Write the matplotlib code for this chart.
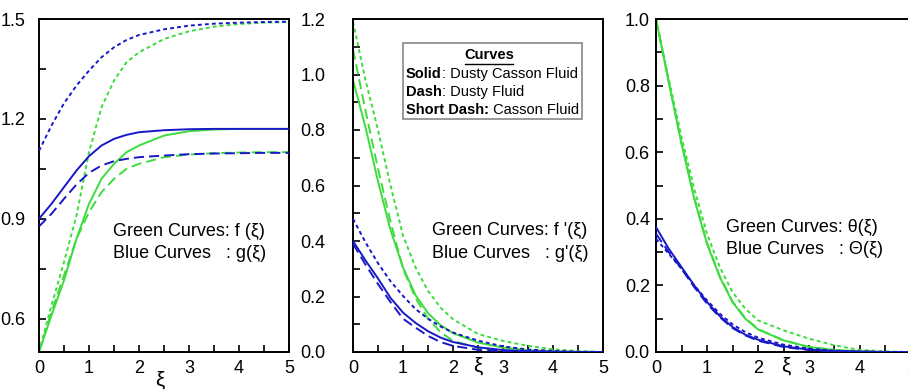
import matplotlib
matplotlib.use('Agg')
import matplotlib.pyplot as plt
from matplotlib.lines import Line2D
from matplotlib.patches import Rectangle
from matplotlib.text import Annotation

plt.rcParams['font.family'] = ['Liberation Sans', 'DejaVu Sans']

xi = [0, 0.25, 0.5, 0.75, 1.0, 1.25, 1.5, 1.75, 2.0, 2.5, 3.0, 3.5, 4.0, 4.5, 5.0]

# panel 1: f and g
f_solid = [0.50, 0.61, 0.715, 0.84, 0.945, 1.02, 1.065, 1.10, 1.12, 1.15, 1.163, 1.168, 1.17, 1.17, 1.17]
f_dash = [0.50, 0.62, 0.73, 0.84, 0.92, 0.98, 1.02, 1.05, 1.065, 1.085, 1.093, 1.097, 1.099, 1.10, 1.10]
f_short = [0.50, 0.64, 0.77, 0.91, 1.10, 1.235, 1.315, 1.37, 1.40, 1.44, 1.463, 1.477, 1.485, 1.489, 1.491]
g_solid = [0.90, 0.945, 0.995, 1.045, 1.088, 1.12, 1.14, 1.152, 1.16, 1.166, 1.169, 1.17, 1.17, 1.17, 1.17]
g_dash = [0.877, 0.915, 0.96, 1.003, 1.038, 1.06, 1.073, 1.08, 1.085, 1.09, 1.094, 1.096, 1.097, 1.098, 1.098]
g_short = [1.104, 1.18, 1.247, 1.30, 1.345, 1.385, 1.415, 1.437, 1.452, 1.469, 1.48, 1.486, 1.489, 1.491, 1.492]

# panel 2: f' and g'
fp_solid = [0.98, 0.81, 0.615, 0.44, 0.305, 0.205, 0.14, 0.097, 0.068, 0.034, 0.016, 0.007, 0.003, 0.001, 0.0]
fp_dash = [1.09, 0.87, 0.66, 0.47, 0.30, 0.195, 0.12, 0.072, 0.04, 0.015, 0.005, 0.002, 0.0, 0.0, 0.0]
fp_short = [1.19, 0.98, 0.80, 0.60, 0.42, 0.305, 0.22, 0.16, 0.118, 0.065, 0.04, 0.022, 0.01, 0.003, 0.0]
gp_solid = [0.40, 0.33, 0.265, 0.195, 0.142, 0.105, 0.075, 0.052, 0.036, 0.017, 0.007, 0.003, 0.001, 0.0, 0.0]
gp_dash = [0.39, 0.315, 0.245, 0.18, 0.12, 0.088, 0.058, 0.036, 0.022, 0.008, 0.003, 0.001, 0.0, 0.0, 0.0]
gp_short = [0.48, 0.395, 0.32, 0.255, 0.202, 0.155, 0.12, 0.092, 0.07, 0.041, 0.02, 0.009, 0.004, 0.001, 0.0]

# panel 3: theta and Theta
th_solid = [1.0, 0.81, 0.625, 0.46, 0.325, 0.225, 0.15, 0.10, 0.068, 0.035, 0.015, 0.006, 0.002, 0.0, 0.0]
th_dash = [1.0, 0.812, 0.628, 0.463, 0.328, 0.228, 0.152, 0.102, 0.069, 0.035, 0.015, 0.006, 0.002, 0.0, 0.0]
th_short = [1.0, 0.82, 0.645, 0.49, 0.355, 0.255, 0.18, 0.13, 0.095, 0.065, 0.04, 0.02, 0.006, 0.002, 0.0]
Th_solid = [0.375, 0.31, 0.255, 0.20, 0.15, 0.108, 0.075, 0.052, 0.037, 0.017, 0.007, 0.003, 0.001, 0.0, 0.0]
Th_dash = [0.355, 0.30, 0.25, 0.195, 0.145, 0.105, 0.072, 0.05, 0.034, 0.015, 0.006, 0.002, 0.001, 0.0, 0.0]
Th_short = [0.34, 0.295, 0.25, 0.20, 0.155, 0.115, 0.083, 0.06, 0.043, 0.022, 0.01, 0.004, 0.001, 0.0, 0.0]

# tick positions
x_major = [0, 1, 2, 3, 4, 5]
x_minor = [0.5, 1.5, 2.5, 3.5, 4.5]
y1_major = [0.6, 0.9, 1.2, 1.5]
y1_minor = [0.75, 1.05, 1.35]
y2_major = [0.0, 0.2, 0.4, 0.6, 0.8, 1.0, 1.2]
y2_minor = [0.1, 0.3, 0.5, 0.7, 0.9, 1.1]
y3_major = [0.0, 0.2, 0.4, 0.6, 0.8, 1.0]
y3_minor = [0.1, 0.3, 0.5, 0.7, 0.9]

green = '#3ddc3d'
blue = '#1818c8'
LONG = (5.2, 2.6)
SHORT = (2.0, 1.6)

W, H = 908, 392
fig = plt.figure(figsize=(W / 100, H / 100), dpi=100)

def px(x, y):
    return x / W, 1 - y / H

def make_ax(left_px, width_px, ylim, major, minor, pad):
    ax = fig.add_axes([left_px / W, 1 - 352 / H, width_px / W, 333 / H])
    ax.set_xlim(0, 5)
    ax.set_ylim(*ylim)
    ax.set_xticks(x_major)
    ax.set_xticks(x_minor, minor=True)
    ax.set_yticks(major)
    ax.set_yticks(minor, minor=True)
    ax.set_yticklabels(['%.1f' % t for t in major])
    ax.tick_params(which='both', direction='in', length=5, width=1.2, labelsize=13)
    ax.tick_params(axis='y', pad=pad)
    ax.tick_params(axis='x', pad=6)
    for s in ax.spines.values():
        s.set_linewidth(1.4)
    return ax

def draw(ax, s, d, sh, color, z):
    ax.plot(xi, s, color=color, lw=1.4, zorder=z)
    ax.plot(xi, d, color=color, lw=1.4, dashes=LONG, zorder=z)
    ax.plot(xi, sh, color=color, lw=1.4, dashes=SHORT, zorder=z)

ax1 = make_ax(39, 250, (0.5, 1.5), y1_major, y1_minor, 10)
draw(ax1, f_solid, f_dash, f_short, green, 2)
draw(ax1, g_solid, g_dash, g_short, blue, 3)

ax2 = make_ax(353, 250, (0.0, 1.2), y2_major, y2_minor, 20)
draw(ax2, fp_solid, fp_dash, fp_short, green, 2)
draw(ax2, gp_solid, gp_dash, gp_short, blue, 3)

ax3 = make_ax(656, 255, (0.0, 1.0), y3_major, y3_minor, 4.5)
draw(ax3, th_solid, th_dash, th_short, green, 2)
draw(ax3, Th_solid, Th_dash, Th_short, blue, 3)

# xi axis labels
fig.text(*px(160, 380), 'ξ', fontsize=15, ha='center', va='center')
fig.text(*px(478, 366), 'ξ', fontsize=15, ha='center', va='center')
fig.text(*px(786, 366), 'ξ', fontsize=15, ha='center', va='center')

# curve notes
notes = [
    (113, 231, 253, 'Green Curves: f (ξ)', 'Blue Curves   : g(ξ)'),
    (432, 230, 253, "Green Curves: f '(ξ)", "Blue Curves   : g'(ξ)"),
    (726, 227, 249, 'Green Curves: θ(ξ)', 'Blue Curves   : Θ(ξ)'),
]
for x, y1, y2, t1, t2 in notes:
    fig.text(*px(x, y1), t1, fontsize=13, va='center')
    fig.text(*px(x, y2), t2, fontsize=13, va='center')

# key box in middle panel
bx0, by0, bx1, by1 = 403, 43, 582, 119
fig.add_artist(Rectangle(px(bx0, by1), (bx1 - bx0) / W, (by1 - by0) / H,
                         transform=fig.transFigure, facecolor='white',
                         edgecolor='#888888', lw=1.2, zorder=5))
fig.text(*px(489, 55), 'Curves', fontsize=10.5, weight='bold', ha='center', va='center', zorder=6)
fig.add_artist(Line2D([465 / W, 513 / W], [1 - 63.5 / H, 1 - 63.5 / H],
                      transform=fig.transFigure, color='black', lw=1.0, zorder=6))
rows = [(74, 'Solid', ': Dusty Casson Fluid'),
        (92, 'Dash', ': Dusty Fluid'),
        (110, 'Short Dash:', ' Casson Fluid')]
for y, b, n in rows:
    t = fig.text(*px(406, y), b, fontsize=10.5, weight='bold', va='center', zorder=6)
    fig.add_artist(Annotation(n, xy=(1, 0.5), xycoords=t, va='center',
                              fontsize=10.5, zorder=6))

fig.savefig('out.png', dpi=100)
